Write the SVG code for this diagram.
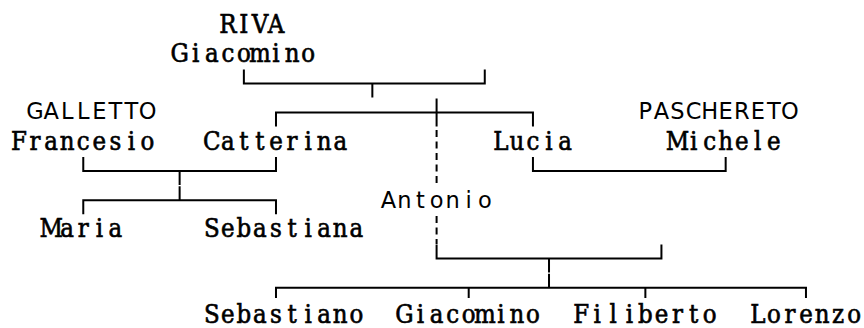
<svg xmlns="http://www.w3.org/2000/svg" width="864" height="328" viewBox="0 0 864 328">
<style>
.n{font-family:"DejaVu Serif Condensed","DejaVu Serif","Liberation Serif",serif;font-stretch:condensed;font-size:25.5px;fill:#000;stroke:#000;stroke-width:0.6;text-anchor:middle}
.s{font-family:"DejaVu Sans","Liberation Sans",sans-serif;font-size:22.5px;fill:#000;text-anchor:middle}
.c{fill:none;stroke:#000;stroke-width:2}
.d{fill:none;stroke:#000;stroke-width:2;stroke-dasharray:7 4.5}
</style>
<rect width="864" height="328" fill="#fff"/>
<g id="connectors">
<path class="c" d="M243.87 69.4V83.4H484.77V69.4M372.35 83.4V97.4"/>
<path class="c" d="M275.99 126.6V112.6H532.95V126.6M436.59 98.6V126.6"/>
<path class="d" d="M436.59 130V185M436.59 216V244"/>
<path class="c" d="M83.27 157V171H275.99V157M179.63 171V185"/>
<path class="c" d="M83.27 214.2V200.2H275.99V214.2M179.63 186.2V200.2"/>
<path class="c" d="M532.95 157V171H725.67V157"/>
<path class="c" d="M436.59 244.6V258.6H661.43V244.6M549.01 258.6V272.6"/>
<path class="c" d="M275.99 298V287.8H805.97V298M468.71 287.8V298M645.37 287.8V298M549.01 273.8V287.8"/>
</g>
<g id="riva-giacomino">
<text class="n" x="227.81 243.87 259.93 275.99" y="33">RIVA</text>
<text class="n" x="179.63 195.69 211.75 227.81 243.87 259.93 275.99 292.05 308.11" y="62.2">Giacomino</text>
</g>
<g id="galletto-francesio">
<text class="s" x="35.09 51.15 67.21 83.27 99.33 115.39 131.45 147.51" y="119">GALLETTO</text>
<text class="n" x="19.03 35.09 51.15 67.21 83.27 99.33 115.39 131.45 147.51" y="149.8">Francesio</text>
</g>
<g id="catterina">
<text class="n" x="211.75 227.81 243.87 259.93 275.99 292.05 308.11 324.17 340.23" y="149.8">Catterina</text>
</g>
<g id="lucia">
<text class="n" x="500.83 516.89 532.95 549.01 565.07" y="149.8">Lucia</text>
</g>
<g id="pascheretto-michele">
<text class="s" x="645.37 661.43 677.49 693.55 709.61 725.67 741.73 757.79 773.85 789.91" y="119">PASCHERETO</text>
<text class="n" x="677.49 693.55 709.61 725.67 741.73 757.79 773.85" y="149.8">Michele</text>
</g>
<g id="antonio">
<text class="s" x="388.41 404.47 420.53 436.59 452.65 468.71 484.77" y="208">Antonio</text>
</g>
<g id="maria">
<text class="n" x="51.15 67.21 83.27 99.33 115.39" y="237.4">Maria</text>
</g>
<g id="sebastiana">
<text class="n" x="211.75 227.81 243.87 259.93 275.99 292.05 308.11 324.17 340.23 356.29" y="237.4">Sebastiana</text>
</g>
<g id="sebastiano">
<text class="n" x="211.75 227.81 243.87 259.93 275.99 292.05 308.11 324.17 340.23 356.29" y="323">Sebastiano</text>
</g>
<g id="giacomino-jr">
<text class="n" x="404.47 420.53 436.59 452.65 468.71 484.77 500.83 516.89 532.95" y="323">Giacomino</text>
</g>
<g id="filiberto">
<text class="n" x="581.13 597.19 613.25 629.31 645.37 661.43 677.49 693.55 709.61" y="323">Filiberto</text>
</g>
<g id="lorenzo">
<text class="n" x="757.79 773.85 789.91 805.97 822.03 838.09 854.15" y="323">Lorenzo</text>
</g>
</svg>
